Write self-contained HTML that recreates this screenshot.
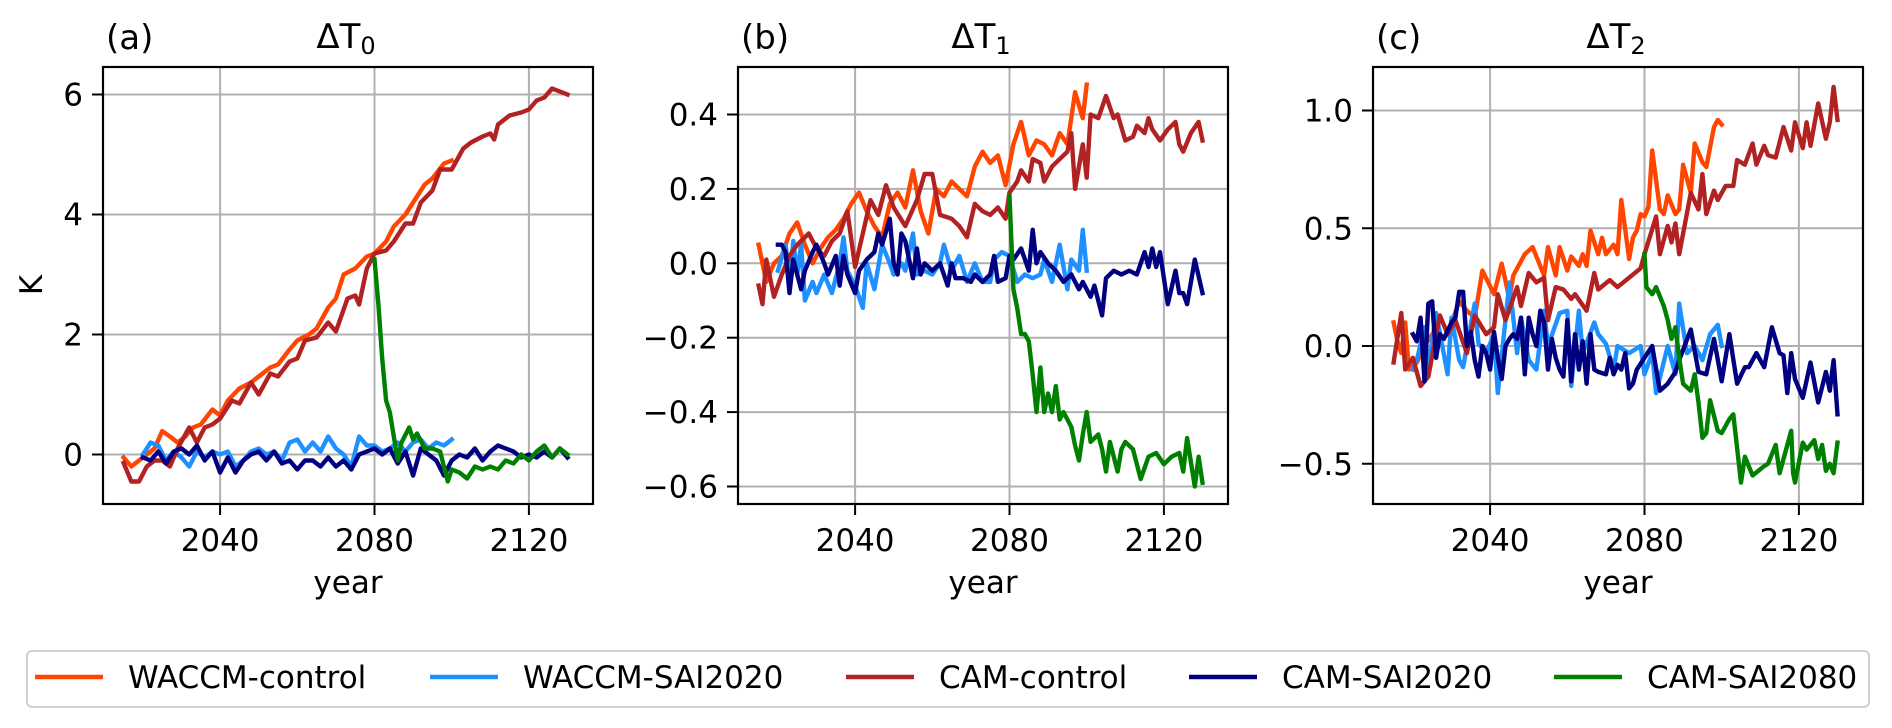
<!DOCTYPE html>
<html><head><meta charset="utf-8">
<style>
html,body{margin:0;padding:0;background:#fff;}
svg{display:block;font-family:"DejaVu Sans","Liberation Sans",sans-serif;}
</style></head>
<body>
<svg id="fig" width="1892" height="728" viewBox="0 0 1892 728" xmlns="http://www.w3.org/2000/svg"></svg>
<script>
// ---------- data ----------
const xTicks = [2040, 2080, 2120];
const aYTicks = [0, 2, 4, 6];
const bYTicks = [-0.6, -0.4, -0.2, 0.0, 0.2, 0.4];
const cYTicks = [-0.5, 0.0, 0.5, 1.0];
const aYTickLabels = ["0", "2", "4", "6"];
const bYTickLabels = ["\u22120.6", "\u22120.4", "\u22120.2", "0.0", "0.2", "0.4"];
const cYTickLabels = ["\u22120.5", "0.0", "0.5", "1.0"];
const seriesNames = ["WACCM-control", "WACCM-SAI2020", "CAM-control", "CAM-SAI2020", "CAM-SAI2080"];

const aWaccmControl = [[2015,-0.05],[2017,-0.2],[2019,-0.1],[2021,0.0],[2023,0.1],[2025,0.39],[2027,0.3],[2029,0.2],[2031,0.3],[2033,0.45],[2035,0.5],[2038,0.75],[2040,0.65],[2042,0.9],[2045,1.1],[2048,1.2],[2050,1.3],[2053,1.45],[2055,1.5],[2058,1.75],[2060,1.9],[2063,2.0],[2065,2.1],[2068,2.45],[2070,2.6],[2072,3.0],[2075,3.1],[2078,3.3],[2080,3.35],[2083,3.55],[2085,3.8],[2088,4.0],[2090,4.2],[2093,4.5],[2095,4.6],[2098,4.85],[2100,4.9]];
const aWaccmSai = [[2020,0.0],[2022,0.2],[2024,0.15],[2026,-0.1],[2028,0.05],[2030,-0.05],[2032,-0.2],[2034,0.05],[2036,-0.05],[2038,0.05],[2040,0.0],[2042,0.05],[2044,-0.2],[2046,-0.1],[2048,0.05],[2050,0.1],[2052,0.0],[2054,0.05],[2056,-0.1],[2058,0.2],[2060,0.25],[2062,0.05],[2064,0.2],[2066,0.05],[2068,0.3],[2070,0.1],[2072,0.0],[2074,-0.2],[2076,0.3],[2078,0.15],[2080,0.15],[2082,0.05],[2084,0.1],[2086,0.2],[2088,0.05],[2090,0.2],[2092,0.25],[2094,0.1],[2096,0.2],[2098,0.15],[2100,0.25]];
const aCamControl = [[2015,-0.14],[2017,-0.45],[2019,-0.45],[2021,-0.2],[2023,-0.1],[2025,-0.1],[2027,-0.2],[2029,0.1],[2032,0.45],[2034,0.2],[2036,0.45],[2038,0.5],[2040,0.6],[2043,0.9],[2045,0.85],[2048,1.2],[2050,1.0],[2053,1.35],[2055,1.3],[2058,1.55],[2060,1.6],[2062,1.9],[2065,1.95],[2068,2.2],[2070,2.05],[2073,2.6],[2075,2.65],[2076,2.5],[2078,3.1],[2080,3.35],[2083,3.4],[2085,3.55],[2088,3.85],[2090,3.85],[2092,4.2],[2095,4.4],[2097,4.75],[2100,4.75],[2103,5.1],[2105,5.2],[2108,5.3],[2110,5.35],[2111,5.25],[2112,5.5],[2115,5.65],[2118,5.7],[2120,5.75],[2122,5.9],[2124,5.95],[2126,6.1],[2128,6.05],[2130,6.0]];
const aCamSai = [[2020,-0.05],[2022,-0.1],[2024,0.05],[2026,-0.15],[2028,0.05],[2030,0.1],[2032,0.0],[2034,0.15],[2036,-0.1],[2038,0.05],[2040,-0.3],[2042,-0.05],[2044,-0.3],[2046,-0.1],[2048,0.0],[2050,0.05],[2052,-0.1],[2054,0.05],[2056,-0.15],[2058,-0.1],[2060,-0.25],[2062,-0.1],[2064,-0.1],[2066,-0.2],[2068,-0.05],[2070,-0.2],[2072,-0.1],[2074,-0.25],[2076,0.0],[2078,0.05],[2080,0.1],[2082,0.0],[2084,0.1],[2086,-0.15],[2088,0.05],[2090,-0.35],[2092,0.1],[2094,0.0],[2096,-0.1],[2098,-0.35],[2100,-0.1],[2102,0.0],[2104,-0.05],[2106,0.1],[2108,-0.1],[2110,0.05],[2112,0.15],[2114,0.1],[2116,0.05],[2118,-0.05],[2120,0.0],[2122,-0.05],[2124,0.05],[2126,-0.05],[2128,0.1],[2130,-0.05]];
const aCamSai2080 = [[2080,3.25],[2081,2.5],[2082,1.6],[2083,0.9],[2084,0.7],[2085,0.3],[2086,-0.1],[2087,0.2],[2089,0.45],[2090,0.25],[2091,0.35],[2093,0.1],[2095,0.1],[2097,0.05],[2099,-0.45],[2100,-0.25],[2102,-0.3],[2104,-0.4],[2106,-0.2],[2108,-0.25],[2110,-0.2],[2112,-0.25],[2114,-0.1],[2116,-0.15],[2118,0.0],[2120,-0.1],[2122,0.05],[2124,0.15],[2126,-0.05],[2128,0.1],[2130,0.0]];

const bWaccmControl = [[2015,0.05],[2017,-0.05],[2019,0.0],[2021,0.02],[2023,0.08],[2025,0.11],[2027,0.05],[2029,0.0],[2031,0.04],[2033,0.07],[2035,0.09],[2037,0.12],[2039,0.16],[2041,0.19],[2043,0.14],[2045,0.1],[2047,0.07],[2049,0.16],[2051,0.19],[2053,0.15],[2055,0.25],[2057,0.14],[2059,0.08],[2061,0.2],[2063,0.18],[2065,0.22],[2067,0.2],[2069,0.18],[2071,0.26],[2073,0.3],[2075,0.27],[2077,0.29],[2079,0.21],[2081,0.32],[2083,0.38],[2085,0.29],[2087,0.33],[2089,0.32],[2091,0.29],[2093,0.35],[2095,0.32],[2097,0.46],[2099,0.39],[2100,0.48]];
const bWaccmSai = [[2020,-0.02],[2022,0.05],[2023,-0.05],[2024,0.06],[2025,-0.03],[2026,0.05],[2027,-0.1],[2029,-0.05],[2030,-0.08],[2032,-0.03],[2034,-0.08],[2036,0.0],[2037,0.07],[2038,-0.02],[2040,-0.06],[2042,-0.12],[2043,0.0],[2045,-0.07],[2047,0.05],[2049,0.0],[2050,-0.03],[2052,0.0],[2053,-0.02],[2055,0.08],[2056,-0.03],[2058,-0.02],[2060,-0.03],[2062,0.0],[2063,0.05],[2065,-0.02],[2067,0.02],[2069,-0.05],[2071,0.0],[2073,-0.05],[2075,-0.05],[2076,0.01],[2078,0.03],[2080,0.02],[2082,-0.05],[2084,-0.03],[2086,-0.04],[2088,-0.03],[2089,0.01],[2091,-0.05],[2093,0.05],[2095,-0.07],[2096,0.01],[2098,-0.02],[2099,0.09],[2100,-0.02]];
const bCamControl = [[2015,-0.06],[2016,-0.11],[2017,0.01],[2019,-0.09],[2021,-0.03],[2023,0.02],[2025,0.05],[2028,0.08],[2030,0.04],[2032,0.02],[2034,0.06],[2036,0.08],[2038,0.14],[2040,-0.01],[2042,0.08],[2044,0.17],[2046,0.13],[2048,0.21],[2050,0.15],[2053,0.1],[2056,0.17],[2058,0.24],[2060,0.24],[2062,0.13],[2065,0.12],[2067,0.1],[2069,0.07],[2071,0.16],[2073,0.14],[2075,0.13],[2077,0.15],[2079,0.12],[2080,0.19],[2082,0.22],[2083,0.25],[2085,0.22],[2086,0.28],[2088,0.27],[2089,0.22],[2091,0.26],[2093,0.28],[2095,0.3],[2096,0.35],[2097,0.2],[2099,0.32],[2100,0.23],[2101,0.4],[2103,0.39],[2105,0.45],[2107,0.39],[2108,0.4],[2110,0.33],[2112,0.34],[2113,0.37],[2115,0.35],[2116,0.39],[2117,0.36],[2119,0.33],[2121,0.36],[2123,0.38],[2124,0.32],[2125,0.3],[2127,0.35],[2129,0.38],[2130,0.33]];
const bCamSai = [[2020,0.05],[2021,0.05],[2022,0.03],[2023,-0.08],[2024,0.01],[2026,-0.07],[2027,-0.02],[2029,0.03],[2030,0.05],[2032,0.0],[2033,-0.03],[2035,0.02],[2036,-0.06],[2037,0.02],[2038,-0.03],[2040,-0.08],[2041,-0.02],[2043,0.01],[2045,0.03],[2046,0.08],[2047,0.05],[2049,0.12],[2050,0.0],[2051,-0.03],[2052,0.08],[2053,0.06],[2055,-0.04],[2056,0.04],[2057,-0.03],[2058,0.0],[2060,-0.02],[2062,0.0],[2064,-0.06],[2065,0.0],[2066,-0.04],[2068,-0.04],[2070,-0.05],[2071,-0.03],[2073,-0.05],[2075,-0.03],[2076,0.02],[2077,-0.05],[2079,-0.04],[2080,0.02],[2081,0.01],[2083,0.04],[2085,-0.02],[2086,0.09],[2087,0.0],[2088,0.03],[2090,0.0],[2092,-0.02],[2094,-0.05],[2096,-0.03],[2098,-0.07],[2099,-0.05],[2101,-0.09],[2102,-0.06],[2104,-0.14],[2105,-0.04],[2107,-0.02],[2109,-0.03],[2111,-0.02],[2113,-0.03],[2115,0.03],[2116,-0.01],[2117,0.04],[2118,-0.01],[2119,0.03],[2121,-0.11],[2123,-0.02],[2124,-0.08],[2125,-0.08],[2126,-0.11],[2128,0.01],[2130,-0.08]];
const bCamSai2080 = [[2080,0.18],[2081,-0.07],[2082,-0.12],[2083,-0.19],[2084,-0.19],[2085,-0.21],[2086,-0.3],[2087,-0.4],[2088,-0.28],[2089,-0.4],[2090,-0.35],[2091,-0.4],[2092,-0.33],[2093,-0.42],[2094,-0.4],[2095,-0.42],[2096,-0.44],[2097,-0.49],[2098,-0.53],[2099,-0.46],[2100,-0.4],[2101,-0.48],[2103,-0.46],[2104,-0.5],[2105,-0.56],[2106,-0.48],[2108,-0.56],[2109,-0.5],[2110,-0.48],[2112,-0.5],[2114,-0.58],[2116,-0.52],[2118,-0.51],[2120,-0.54],[2122,-0.52],[2124,-0.51],[2125,-0.56],[2126,-0.47],[2128,-0.6],[2129,-0.52],[2130,-0.59]];

const cWaccmControl = [[2015,0.1],[2016,0.02],[2017,-0.03],[2018,0.1],[2019,-0.1],[2021,-0.07],[2023,0.0],[2025,0.05],[2027,0.02],[2029,0.05],[2032,0.19],[2034,0.15],[2036,0.12],[2038,0.32],[2041,0.22],[2043,0.35],[2045,0.2],[2046,0.3],[2049,0.39],[2051,0.42],[2054,0.3],[2055,0.42],[2057,0.3],[2058,0.42],[2060,0.32],[2061,0.38],[2063,0.34],[2064,0.39],[2065,0.34],[2066,0.49],[2068,0.39],[2069,0.46],[2070,0.39],[2072,0.43],[2073,0.39],[2074,0.62],[2076,0.37],[2077,0.46],[2078,0.49],[2079,0.56],[2080,0.55],[2081,0.59],[2082,0.83],[2084,0.58],[2085,0.56],[2086,0.64],[2088,0.56],[2089,0.58],[2090,0.77],[2092,0.65],[2093,0.86],[2095,0.78],[2096,0.76],[2098,0.93],[2099,0.96],[2100,0.94]];
const cWaccmSai = [[2020,-0.1],[2021,-0.06],[2023,0.08],[2024,-0.1],[2026,0.14],[2029,-0.12],[2030,0.12],[2032,-0.06],[2033,-0.09],[2036,0.18],[2037,0.01],[2039,-0.03],[2041,0.05],[2042,-0.2],[2045,0.27],[2047,-0.03],[2048,0.12],[2050,-0.06],[2052,-0.1],[2054,0.15],[2055,0.0],[2058,0.14],[2060,0.15],[2061,-0.17],[2063,0.15],[2064,-0.03],[2067,0.1],[2068,0.05],[2070,0.01],[2072,-0.1],[2073,0.0],[2076,-0.03],[2079,0.0],[2080,-0.12],[2082,-0.03],[2083,-0.2],[2086,0.0],[2088,-0.12],[2089,0.18],[2091,-0.03],[2093,0.0],[2095,-0.06],[2097,0.05],[2099,0.09],[2100,0.0]];
const cCamControl = [[2015,-0.07],[2017,0.14],[2018,-0.1],[2020,-0.05],[2022,-0.17],[2024,-0.13],[2027,0.13],[2029,0.05],[2031,0.11],[2034,-0.03],[2036,0.13],[2039,0.05],[2041,0.08],[2042,0.22],[2044,0.11],[2047,0.25],[2048,0.17],[2050,0.31],[2052,0.27],[2054,0.29],[2055,0.11],[2057,0.25],[2059,0.24],[2061,0.2],[2062,0.22],[2065,0.15],[2067,0.31],[2068,0.24],[2071,0.28],[2073,0.25],[2076,0.29],[2079,0.33],[2080,0.39],[2083,0.55],[2084,0.39],[2086,0.51],[2087,0.44],[2088,0.52],[2089,0.39],[2092,0.65],[2094,0.58],[2095,0.73],[2096,0.56],[2098,0.66],[2099,0.62],[2101,0.68],[2103,0.68],[2104,0.79],[2106,0.77],[2108,0.86],[2109,0.77],[2111,0.85],[2112,0.81],[2114,0.8],[2116,0.93],[2118,0.83],[2119,0.95],[2121,0.84],[2122,0.95],[2123,0.85],[2125,1.03],[2127,0.88],[2128,0.95],[2129,1.1],[2130,0.96]];
const cCamSai = [[2020,0.05],[2021,0.02],[2022,0.12],[2023,-0.15],[2024,0.18],[2025,0.19],[2026,-0.05],[2027,0.05],[2028,0.03],[2030,0.1],[2031,0.12],[2032,0.23],[2033,0.23],[2034,0.0],[2035,0.06],[2036,-0.06],[2037,-0.13],[2038,0.0],[2039,-0.03],[2040,-0.1],[2041,0.06],[2042,-0.05],[2043,-0.14],[2044,0.0],[2045,0.03],[2046,0.05],[2047,0.03],[2048,0.12],[2049,-0.12],[2050,0.12],[2051,0.05],[2052,0.0],[2053,0.15],[2054,0.1],[2055,-0.1],[2056,0.03],[2057,-0.05],[2058,-0.1],[2059,-0.13],[2060,0.11],[2061,-0.15],[2062,0.05],[2063,-0.1],[2064,0.02],[2065,-0.16],[2066,0.05],[2067,-0.1],[2068,-0.11],[2070,-0.12],[2071,-0.05],[2072,-0.12],[2073,-0.08],[2074,-0.1],[2075,-0.03],[2076,-0.18],[2077,-0.16],[2078,-0.1],[2080,-0.05],[2082,0.0],[2084,-0.19],[2086,-0.16],[2088,-0.11],[2089,-0.06],[2092,0.07],[2094,-0.11],[2096,-0.12],[2098,0.03],[2100,-0.15],[2102,0.05],[2104,-0.16],[2106,-0.09],[2107,-0.09],[2109,-0.03],[2111,-0.09],[2113,0.08],[2115,-0.03],[2116,-0.04],[2117,-0.2],[2118,-0.03],[2119,-0.14],[2121,-0.22],[2123,-0.07],[2125,-0.24],[2127,-0.11],[2128,-0.19],[2129,-0.06],[2130,-0.29]];
const cCamSai2080 = [[2080,0.39],[2080.5,0.25],[2082,0.22],[2083,0.25],[2085,0.17],[2086,0.11],[2087,0.03],[2088,0.08],[2089,-0.05],[2090,-0.16],[2092,-0.19],[2093,-0.12],[2094,-0.24],[2095,-0.39],[2096,-0.37],[2097,-0.23],[2099,-0.36],[2100,-0.37],[2102,-0.31],[2103,-0.29],[2105,-0.58],[2106,-0.47],[2108,-0.55],[2111,-0.51],[2112,-0.5],[2114,-0.42],[2115,-0.54],[2116,-0.48],[2118,-0.36],[2118.5,-0.54],[2119,-0.58],[2121,-0.41],[2122,-0.44],[2124,-0.4],[2125,-0.48],[2126,-0.42],[2127,-0.53],[2128,-0.5],[2129,-0.54],[2130,-0.41]];

// ---------- rendering ----------
const NS = "http://www.w3.org/2000/svg";
const svg = document.getElementById("fig");
const COLORS = ["#ff4500", "#1e90ff", "#b22222", "#000080", "#008000"];
const TOP = 67, BOTTOM = 504, WIDTH = 490;
const FONT = 31;

function mk(tag, attrs, parent) {
  const e = document.createElementNS(NS, tag);
  for (const k in attrs) e.setAttribute(k, attrs[k]);
  (parent || svg).appendChild(e);
  return e;
}

const panels = [
  {id: "a", left: 103, sub: "0", y0: 454.5, ky: 60, yt: aYTicks, yl: aYTickLabels, series: [aWaccmControl, aWaccmSai, aCamControl, aCamSai, aCamSai2080]},
  {id: "b", left: 738, sub: "1", y0: 263.3, ky: 372, yt: bYTicks, yl: bYTickLabels, series: [bWaccmControl, bWaccmSai, bCamControl, bCamSai, bCamSai2080]},
  {id: "c", left: 1373, sub: "2", y0: 346, ky: 235.5, yt: cYTicks, yl: cYTickLabels, series: [cWaccmControl, cWaccmSai, cCamControl, cCamSai, cCamSai2080]}
];

panels.forEach(p => {
  const xs = yr => p.left + 271.5 + (yr - 2080) * 3.86;
  const ys = v => p.y0 - v * p.ky;
  const g = mk("g", {});
  
  
  const defs = mk("defs", {}, g);
  const cp = mk("clipPath", {id: "clip-" + p.id}, defs);
  mk("rect", {x: p.left, y: TOP, width: WIDTH, height: BOTTOM - TOP}, cp);

  xTicks.forEach(t => {
    const l = mk("line", {x1: xs(t), x2: xs(t), y1: TOP, y2: BOTTOM, stroke: "#b0b0b0", "stroke-width": 2}, g);
    
    
  });
  p.yt.forEach(t => {
    const l = mk("line", {x1: p.left, x2: p.left + WIDTH, y1: ys(t), y2: ys(t), stroke: "#b0b0b0", "stroke-width": 2}, g);
    
    
  });

  const sg = mk("g", {"clip-path": "url(#clip-" + p.id + ")"}, g);
  p.series.forEach((s, i) => {
    const d = s.map((pt, j) => (j ? "L" : "M") + xs(pt[0]).toFixed(1) + "," + ys(pt[1]).toFixed(1)).join("");
    const path = mk("path", {d: d, fill: "none", stroke: COLORS[i], "stroke-width": 4.4, "stroke-linejoin": "round", "stroke-linecap": "square"}, sg);
    
    
  });

  const fr = mk("rect", {x: p.left, y: TOP, width: WIDTH, height: BOTTOM - TOP, fill: "none", stroke: "#000", "stroke-width": 2.2}, g);
  
  

  xTicks.forEach(t => {
    mk("line", {x1: xs(t), x2: xs(t), y1: BOTTOM, y2: BOTTOM + 11, stroke: "#000", "stroke-width": 2}, g);
    const tx = mk("text", {x: xs(t), y: 551, "text-anchor": "middle", "font-size": FONT}, g);
    tx.textContent = String(t);
    
    
  });
  p.yt.forEach((t, i) => {
    mk("line", {x1: p.left - 11, x2: p.left, y1: ys(t), y2: ys(t), stroke: "#000", "stroke-width": 2}, g);
    const tx = mk("text", {x: p.left - 20, y: ys(t) + 11, "text-anchor": "end", "font-size": FONT}, g);
    tx.textContent = p.yl[i];
    
    
  });
  const xl = mk("text", {x: p.left + WIDTH / 2, y: 593, "text-anchor": "middle", "font-size": FONT}, g);
  xl.textContent = "year";
  
  
  const pl = mk("text", {x: p.left + 3, y: 49, "font-size": 34}, g);
  pl.textContent = "(" + p.id + ")";
  
  
  const tt = mk("text", {x: p.left + WIDTH / 2 - 2, y: 48, "text-anchor": "middle", "font-size": 34}, g);
  
  
  const t1 = mk("tspan", {}, tt); t1.textContent = "\u0394T";
  const t2 = mk("tspan", {"font-size": 24, dy: 6}, tt); t2.textContent = p.sub;
});

const yl = mk("text", {x: 31, y: 285, "text-anchor": "middle", "font-size": FONT, transform: "rotate(-90 31 285)", dy: 11});
yl.textContent = "K";



const lg = mk("g", {});


mk("rect", {x: 27, y: 651, width: 1842, height: 56, rx: 5, fill: "#fff", stroke: "#d0d0d0", "stroke-width": 2}, lg);
const legLineX = [35, 430, 846, 1189, 1554];
seriesNames.forEach((n, i) => {
  const e = mk("g", {}, lg);
  
  
  mk("line", {x1: legLineX[i], x2: legLineX[i] + 68, y1: 677, y2: 677, stroke: COLORS[i], "stroke-width": 4.4}, e);
  const t = mk("text", {x: legLineX[i] + 93, y: 688, "font-size": FONT}, e);
  t.textContent = n;
});
</script>
</body></html>
